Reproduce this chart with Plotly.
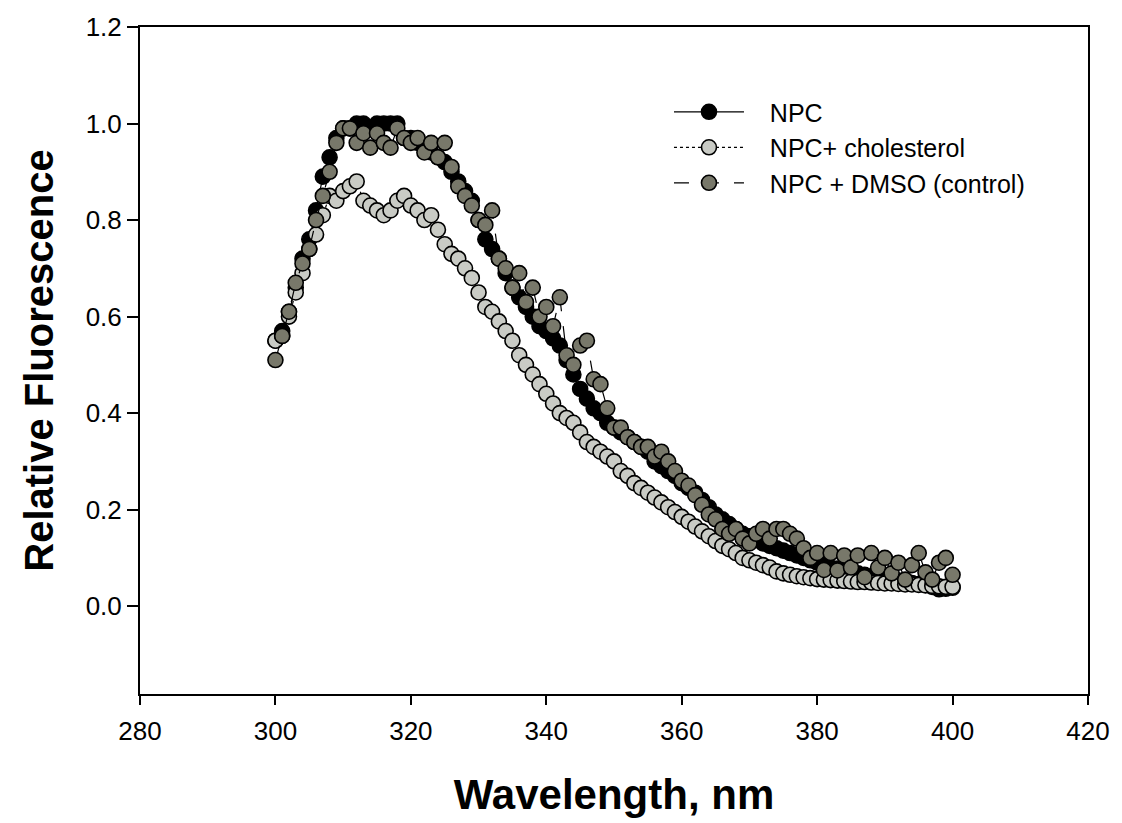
import plotly.graph_objects as go

wavelength = list(range(300, 401))

npc = [
    0.55, 0.57, 0.61, 0.66, 0.72, 0.76, 0.82, 0.89, 0.93, 0.97,  # 300-309
    0.99, 0.99, 1.00, 1.00, 0.99, 1.00, 1.00, 1.00, 1.00, 0.97,  # 310-319
    0.97, 0.96, 0.95, 0.94, 0.93, 0.92, 0.90, 0.88, 0.86, 0.84,  # 320-329
    0.80, 0.76, 0.74, 0.72, 0.69, 0.66, 0.64, 0.62, 0.60, 0.58,  # 330-339
    0.57, 0.555, 0.54, 0.51, 0.48, 0.45, 0.43, 0.41, 0.40, 0.38,  # 340-349
    0.37, 0.36, 0.35, 0.34, 0.33, 0.32, 0.30, 0.29, 0.28, 0.27,  # 350-359
    0.255, 0.245, 0.235, 0.22, 0.205, 0.19, 0.18, 0.17, 0.16, 0.15,  # 360-369
    0.145, 0.14, 0.13, 0.125, 0.12, 0.115, 0.11, 0.105, 0.10, 0.095,  # 370-379
    0.09, 0.085, 0.08, 0.078, 0.075, 0.07, 0.068, 0.065, 0.062, 0.06,  # 380-389
    0.058, 0.055, 0.053, 0.05, 0.048, 0.046, 0.044, 0.04, 0.035, 0.036,  # 390-399
    0.038,  # 400
]

npc_cholesterol = [
    0.55, 0.56, 0.60, 0.65, 0.69, 0.74, 0.77, 0.81, 0.85, 0.84,  # 300-309
    0.86, 0.87, 0.88, 0.84, 0.83, 0.82, 0.81, 0.82, 0.84, 0.85,  # 310-319
    0.83, 0.82, 0.80, 0.81, 0.78, 0.75, 0.73, 0.72, 0.70, 0.68,  # 320-329
    0.65, 0.62, 0.61, 0.59, 0.57, 0.55, 0.52, 0.50, 0.48, 0.46,  # 330-339
    0.44, 0.42, 0.40, 0.39, 0.38, 0.36, 0.34, 0.33, 0.32, 0.31,  # 340-349
    0.30, 0.28, 0.27, 0.255, 0.245, 0.235, 0.225, 0.215, 0.205, 0.195,  # 350-359
    0.185, 0.175, 0.165, 0.155, 0.145, 0.135, 0.125, 0.118, 0.11, 0.10,  # 360-369
    0.095, 0.09, 0.085, 0.08, 0.072, 0.068, 0.065, 0.062, 0.06, 0.058,  # 370-379
    0.056, 0.055, 0.054, 0.053, 0.052, 0.051, 0.05, 0.05, 0.049, 0.048,  # 380-389
    0.047, 0.047, 0.046, 0.045, 0.045, 0.044, 0.043, 0.042, 0.041, 0.04,  # 390-399
    0.04,  # 400
]

npc_dmso = [
    0.51, 0.56, 0.61, 0.67, 0.71, 0.74, 0.80, 0.85, 0.90, 0.96,  # 300-309
    0.99, 0.99, 0.96, 0.98, 0.95, 0.98, 0.96, 0.95, 0.99, 0.97,  # 310-319
    0.96, 0.97, 0.94, 0.96, 0.93, 0.96, 0.91, 0.87, 0.85, 0.83,  # 320-329
    0.80, 0.79, 0.82, 0.72, 0.70, 0.66, 0.69, 0.63, 0.66, 0.60,  # 330-339
    0.62, 0.58, 0.64, 0.52, 0.50, 0.54, 0.55, 0.47, 0.46, 0.41,  # 340-349
    0.37, 0.37, 0.35, 0.34, 0.33, 0.33, 0.31, 0.32, 0.30, 0.28,  # 350-359
    0.26, 0.25, 0.23, 0.21, 0.19, 0.18, 0.16, 0.15, 0.16, 0.14,  # 360-369
    0.13, 0.15, 0.16, 0.14, 0.16, 0.16, 0.15, 0.14, 0.12, 0.10,  # 370-379
    0.11, 0.075, 0.11, 0.074, 0.105, 0.08, 0.105, 0.06, 0.11, 0.08,  # 380-389
    0.10, 0.068, 0.09, 0.055, 0.085, 0.11, 0.07, 0.055, 0.09, 0.10,  # 390-399
    0.065,  # 400
]

series_names = ["NPC", "NPC+ cholesterol", "NPC + DMSO (control)"]
series_values = [npc, npc_cholesterol, npc_dmso]
fill_colors = ["#000000", "#c9cbc5", "#78786a"]
dash_styles = ["solid", "dot", "longdash"]

x_ticks = [280, 300, 320, 340, 360, 380, 400, 420]
y_ticks = [0.0, 0.2, 0.4, 0.6, 0.8, 1.0, 1.2]

FONT = "Liberation Sans, Arial, sans-serif"
PAD = "\u00a0\u00a0\u00a0"

fig = go.Figure()
for name, vals, col, dash in zip(series_names, series_values, fill_colors, dash_styles):
    fig.add_trace(go.Scatter(
        x=wavelength, y=vals, name=PAD + name, mode="lines+markers",
        line=dict(color="#000000", width=1.2, dash=dash),
        marker=dict(size=15, color=col, line=dict(color="#000000", width=1.6)),
    ))

fig.update_layout(
    width=1122, height=823,
    paper_bgcolor="white", plot_bgcolor="white",
    margin=dict(l=140, r=27, t=25, b=129),
    font=dict(family=FONT, color="#000000"),
    showlegend=True,
    legend=dict(
        x=0.558, y=0.907, xanchor="left", yanchor="top",
        bgcolor="rgba(0,0,0,0)", borderwidth=0,
        font=dict(size=25, family=FONT, color="#000000"),
        itemwidth=70,
    ),
    xaxis=dict(
        range=[280, 420], tickvals=x_ticks, ticktext=[str(v) for v in x_ticks],
        showgrid=False, zeroline=False, showline=True, linecolor="#000000",
        linewidth=2, mirror=True, ticks="outside", ticklen=9, tickwidth=1.5,
        tickcolor="#000000", tickfont=dict(size=26, family=FONT),
        ticklabelstandoff=4,
        title=dict(text="<b>Wavelength, nm</b>", font=dict(size=42, family=FONT), standoff=34),
    ),
    yaxis=dict(
        range=[-0.182, 1.2], tickvals=y_ticks, ticktext=[f"{v:.1f}" for v in y_ticks],
        showgrid=False, zeroline=False, showline=True, linecolor="#000000",
        linewidth=2, mirror=True, ticks="outside", ticklen=11, tickwidth=1.5,
        tickcolor="#000000", tickfont=dict(size=26, family=FONT),
        title=dict(text="<b>Relative Fluorescence</b>", font=dict(size=40, family=FONT), standoff=20),
    ),
)

fig.write_html(
    "out.html",
    config={"displayModeBar": False},
    post_script="document.body.style.margin='0';",
)
